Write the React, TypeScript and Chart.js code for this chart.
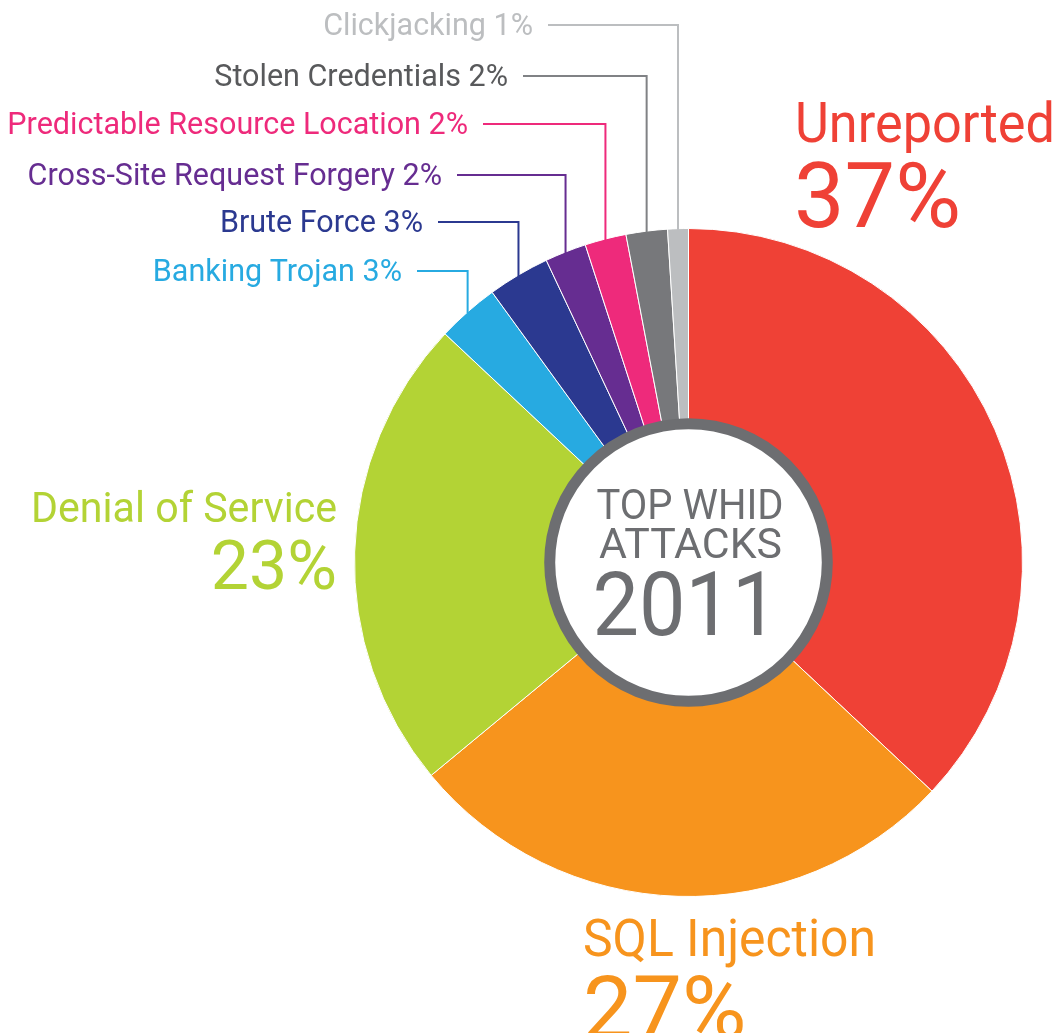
import React, { useEffect, useRef } from "react";
import { Chart, registerables } from "chart.js";

Chart.register(...registerables);

// ---- data ----
const categories = [
  "Unreported",
  "SQL Injection",
  "Denial of Service",
  "Banking Trojan",
  "Brute Force",
  "Cross-Site Request Forgery",
  "Predictable Resource Location",
  "Stolen Credentials",
  "Clickjacking",
];
const values = [37, 27, 23, 3, 3, 2, 2, 2, 1];
const centerTitle = ["TOP WHID", "ATTACKS", "2011"];

// ---- styles ----
const sliceColors = [
  "#ef4136",
  "#f7941d",
  "#b3d335",
  "#27aae1",
  "#2b3990",
  "#662d91",
  "#ee2a7b",
  "#77787b",
  "#bcbec0",
];
const textColors = [
  "#ef4136",
  "#f7941d",
  "#b3d335",
  "#27aae1",
  "#2b3990",
  "#662d91",
  "#ee2a7b",
  "#58595b",
  "#bcbec0",
];
const FONT = "Roboto, 'Noto Sans', sans-serif";
const GREY = "#6d6e71";

// big labels layout: [index, nameX, nameY, nameSize, nameMaxW, pctX, pctY, pctSize, align]
const bigLabelLayout: Array<[number, number, number, number, number, number, number, number, CanvasTextAlign]> = [
  [0, 795, 142, 56, 260, 794, 227, 90, "left"],
  [1, 583, 956, 51, 293, 583, 1038, 88, "left"],
  [2, 337, 522, 42, 306, 337, 589, 68, "right"],
];
// small labels layout: [index, rowY, lineStartX]
const smallLabelLayout: Array<[number, number, number]> = [
  [3, 271, 417],
  [4, 222, 438],
  [5, 175, 457],
  [6, 124, 483],
  [7, 76, 523],
  [8, 25, 548],
];

const overlayPlugin = {
  id: "overlay",
  afterDraw(chart: any) {
    const ctx: CanvasRenderingContext2D = chart.ctx;
    const meta = chart.getDatasetMeta(0);
    const arcs = meta.data;
    if (!arcs.length) return;
    const a0 = arcs[0];
    const cx = a0.x;
    const cy = a0.y;
    const R = a0.outerRadius;

    // leader lines + small labels
    ctx.save();
    smallLabelLayout.forEach(([i, rowY, lineX]) => {
      const arc = arcs[i];
      const mid = (arc.startAngle + arc.endAngle) / 2;
      const ex = cx + R * Math.cos(mid);
      const ey = cy + R * Math.sin(mid);
      ctx.strokeStyle = sliceColors[i] === "#77787b" ? "#808285" : sliceColors[i];
      ctx.lineWidth = 2;
      ctx.beginPath();
      ctx.moveTo(lineX, rowY);
      ctx.lineTo(ex, rowY);
      ctx.lineTo(ex, ey + 1);
      ctx.stroke();

      ctx.fillStyle = textColors[i];
      ctx.font = `400 30.5px ${FONT}`;
      ctx.textAlign = "right";
      ctx.textBaseline = "alphabetic";
      ctx.fillText(`${categories[i]} ${values[i]}%`, lineX - 15, rowY + 10);
    });

    // big labels
    bigLabelLayout.forEach(([i, nx, ny, ns, nw, px, py, ps, align]) => {
      ctx.fillStyle = textColors[i];
      ctx.textAlign = align;
      ctx.textBaseline = "alphabetic";
      ctx.font = `400 ${ns}px ${FONT}`;
      ctx.fillText(categories[i], nx, ny, nw);
      ctx.font = `400 ${ps}px ${FONT}`;
      ctx.fillText(`${values[i]}%`, px, py);
    });

    // center circle
    const ringOuter = R * 0.432;
    const ringW = 11;
    ctx.beginPath();
    ctx.arc(cx, cy, ringOuter - ringW / 2, 0, Math.PI * 2);
    ctx.fillStyle = "#ffffff";
    ctx.fill();
    ctx.lineWidth = ringW;
    ctx.strokeStyle = GREY;
    ctx.stroke();

    ctx.fillStyle = GREY;
    ctx.textAlign = "center";
    ctx.textBaseline = "alphabetic";
    ctx.font = `400 43px ${FONT}`;
    ctx.fillText(centerTitle[0], cx + 1.5, cy - 43.5, 187);
    ctx.fillText(centerTitle[1], cx + 2, cy - 4.5, 183);
    ctx.font = `400 89px ${FONT}`;
    ctx.fillText(centerTitle[2], cx - 3, cy + 72.5, 186);
    ctx.restore();
  },
};

export default function App() {
  const ref = useRef<HTMLCanvasElement | null>(null);
  useEffect(() => {
    if (!ref.current) return;
    const chart = new Chart(ref.current, {
      type: "pie",
      data: {
        labels: categories,
        datasets: [
          {
            data: values,
            backgroundColor: sliceColors,
            borderColor: "#ffffff",
            borderWidth: 1,
          },
        ],
      },
      options: {
        responsive: false,
        animation: false,
        devicePixelRatio: 1,
        layout: { padding: { left: 354, right: 38, top: 228, bottom: 136 } },
        plugins: {
          legend: { display: false },
          tooltip: { enabled: false },
        },
      },
      plugins: [overlayPlugin],
    });
    return () => chart.destroy();
  }, []);
  return (
    <div style={{ position: "absolute", left: 0, top: 0, width: 1061, height: 1033, background: "#ffffff", overflow: "hidden" }}>
      <canvas ref={ref} width={1061} height={1033} style={{ display: "block" }} />
    </div>
  );
}
